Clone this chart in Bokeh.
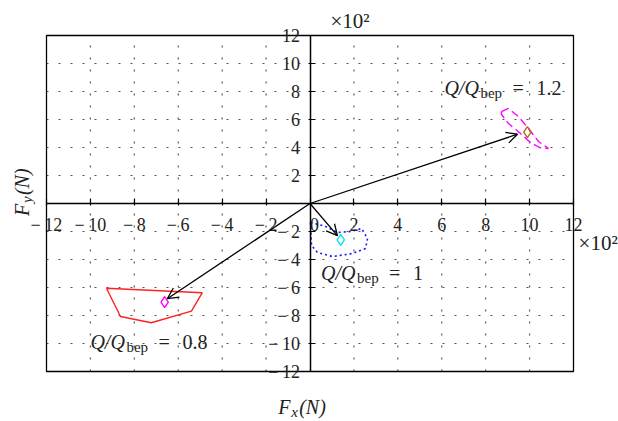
import math
from bokeh.plotting import figure
from bokeh.models import LinearAxis, FixedTicker, Arrow, OpenHead, Label, Range1d
from bokeh.embed import file_html
from bokeh.resources import INLINE

# Radial force components in units of 10^2 N
ticks = list(range(-12, 13, 2))
tick_text = {t: ("\u2212\u2009" + str(-t)) if t < 0 else str(t) for t in ticks}

# Flow-rate cases Q/Q_bep
flow_ratio = ["0.8", "1", "1.2"]

# Tips of the mean force vectors drawn from the origin
arrow_fx = [-6.5, 1.25, 9.45]
arrow_fy = [-6.8, -2.3, 4.95]

# Mean force points
mean_fx = [-6.62, 1.4, 9.9]
mean_fy = [-7.05, -2.6, 5.1]
mean_color = ["#ff00ff", "#00e5ee", "#b5651d"]

# Force orbits over one revolution
orbit_08_fx = [-9.27, -4.91, -5.40, -7.23, -8.63]
orbit_08_fy = [-6.05, -6.38, -7.69, -8.52, -8.07]

orbit_10_fx = [0.02, 0.07, 0.34, 1.02, 1.94, 2.53, 2.62, 2.35, 1.84, 1.25, 0.71]
orbit_10_fy = [-1.36, -3.0, -3.5, -3.79, -3.57, -3.21, -2.5, -1.79, -2.0, -2.07, -1.64]

orbit_12_fx = [8.72, 9.04, 9.49, 9.95, 10.41, 10.86, 10.45, 10.04, 9.59, 9.04, 8.72]
orbit_12_fy = [6.57, 6.79, 6.21, 5.36, 4.43, 3.93, 4.0, 4.36, 5.0, 5.71, 6.36]

SERIF = "Liberation Serif"
lo, hi = ticks[0], ticks[-1]

# The frame covers the whole canvas so that texts around the boxed area are not clipped
W, H = 618, 421
box_l, box_r, box_t, box_b = 46, 573, 35, 371
sx = (box_r - box_l) / (hi - lo)
sy = (box_b - box_t) / (hi - lo)
x_range = Range1d(lo - box_l / sx, hi + (W - box_r) / sx)
y_range = Range1d(lo - (H - box_b) / sy, hi + box_t / sy)

p = figure(width=W, height=H, output_backend="svg", toolbar_location=None,
           x_range=x_range, y_range=y_range,
           x_axis_location=None, y_axis_location=None, min_border=0)
p.background_fill_color = "white"
p.border_fill_color = "white"
p.outline_line_color = None
for g in p.grid:
    g.visible = False

# Dotted grid inside the box
grid_ticks = [t for t in ticks if t not in (lo, 0, hi)]
n = len(grid_ticks)
p.segment(x0=grid_ticks, y0=[lo] * n, x1=grid_ticks, y1=[hi] * n,
          line_color="#555555", line_width=1.2, line_dash="2 10")
p.segment(x0=[lo] * n, y0=grid_ticks, x1=[hi] * n, y1=grid_ticks,
          line_color="#555555", line_width=1.2, line_dash="2 10")

# Box around the plotting area
p.quad(left=[lo], right=[hi], bottom=[lo], top=[hi], fill_color=None,
       line_color="black", line_width=1.3)

# Axes crossing at the origin
xaxis = LinearAxis(fixed_location=0, ticker=FixedTicker(ticks=ticks), bounds=(lo, hi))
yaxis = LinearAxis(fixed_location=0, ticker=FixedTicker(ticks=ticks), bounds=(lo, hi))
xaxis.major_label_overrides = dict(tick_text)
xaxis.major_label_overrides[0] = "\u00a0\u00a00"
yaxis.major_label_overrides = dict(tick_text)
yaxis.major_label_overrides[0] = ""
for ax in (xaxis, yaxis):
    ax.axis_line_width = 1.5
    ax.axis_line_color = "black"
    ax.major_tick_in = 5
    ax.major_tick_out = 2
    ax.major_tick_line_width = 1.2
    ax.minor_tick_line_color = None
    ax.major_label_text_font = SERIF
    ax.major_label_text_font_size = "18px"
    ax.major_label_text_color = "#222222"
xaxis.major_label_standoff = 9
yaxis.major_label_standoff = 8
p.add_layout(xaxis, "below")
p.add_layout(yaxis, "left")

def closed(a):
    return list(a) + [a[0]]

# Orbits
p.line(closed(orbit_08_fx), closed(orbit_08_fy), line_color="#ff2020", line_width=1.4)
p.line(closed(orbit_10_fx), closed(orbit_10_fy), line_color="#1515ff", line_width=1.6,
       line_dash="2 3")
p.line(closed(orbit_12_fx), closed(orbit_12_fy), line_color="#ff00ff", line_width=1.4,
       line_dash="8 4")

# Mean force vectors
for fx, fy in zip(arrow_fx, arrow_fy):
    p.add_layout(Arrow(end=OpenHead(size=11, line_width=1.3, line_color="black"),
                       x_start=0, y_start=0, x_end=fx, y_end=fy,
                       line_width=1.3, line_color="black"))

p.scatter(mean_fx, mean_fy, marker="diamond", size=11, fill_color=None,
          line_color=mean_color, line_width=1.4)

def add_piece(x, y, text, size, style="normal", dx=0, dy=0, angle=0.0):
    p.add_layout(Label(x=x, y=y, text=text, x_offset=dx, y_offset=dy, angle=angle,
                       text_font=SERIF, text_font_size=size, text_font_style=style,
                       text_color="#222222", text_baseline="alphabetic",
                       text_align="left"))

def flow_label(x, y, ratio):
    add_piece(x, y, "Q/Q", "20px", "italic", dy=6)
    add_piece(x, y, "bep", "15px", "normal", dx=36, dy=1)
    add_piece(x, y, "=", "20px", "normal", dx=68, dy=6)
    add_piece(x, y, ratio, "20px", "normal", dx=92, dy=6)

flow_label(6.12, 7.8, flow_ratio[2])
flow_label(0.5, -5.4, flow_ratio[1])
flow_label(-10.0, -10.3, flow_ratio[0])

# Axis titles
add_piece(-1.45, -14.95, "F", "20px", "italic", dy=6)
add_piece(-1.45, -14.95, "x", "15px", "italic", dx=13, dy=1)
add_piece(-1.45, -14.95, "(N)", "20px", "italic", dx=21, dy=6)

add_piece(-12.8, -0.9, "F", "20px", "italic", dx=-7, angle=math.pi / 2)
add_piece(-12.8, -0.9, "y", "15px", "italic", dx=-2, dy=13, angle=math.pi / 2)
add_piece(-12.8, -0.9, "(N)", "20px", "italic", dx=-7, dy=21, angle=math.pi / 2)

# Scale multipliers
add_piece(0.93, 12.7, "\u00d710\u00b2", "21px", "normal", dy=5)
add_piece(12.23, -3.2, "\u00d710\u00b2", "21px", "normal", dy=5)

open("out.html", "w").write(file_html(p, INLINE))
